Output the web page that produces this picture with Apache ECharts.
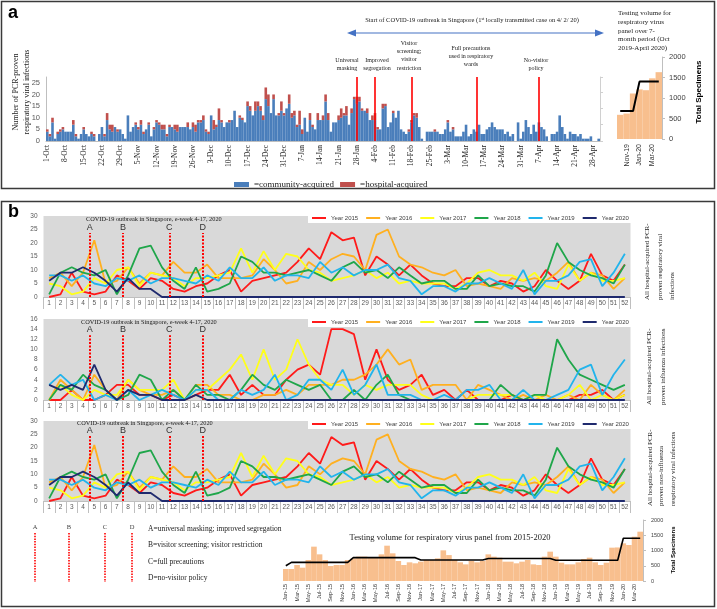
<!DOCTYPE html>
<html><head><meta charset="utf-8">
<script src="https://cdn.jsdelivr.net/npm/echarts@6/dist/echarts.min.js"></script>
<style>html,body{margin:0;padding:0;background:#fff}#c{width:717px;height:609px}</style>
</head><body><div id="c"></div><script>
const SERIF = 'Liberation Serif, DejaVu Serif, serif';
const SANS = 'Liberation Sans, Arial, sans-serif';

// ---------- Panel a: daily infections Oct 2019 - Apr 2020 ----------
const aMonthNames = ['Oct','Nov','Dec','Jan','Feb','Mar','Apr'];
const aMonthLengths = [31,30,31,31,29,31,30];
const dayLabels = [];
aMonthNames.forEach((m,i)=>{ for(let d=1; d<=aMonthLengths[i]; d++) dayLabels.push(d+'-'+m); });

const communityAcquired = [
 4,2,8,1,3,4,5, 4,4,4,7,2,1,3, 5,3,2,3,2,0,3, 6,2,9,5,4,6,4, 5,3,1,
 11,4,6,7,5,7,3,5,7,2, 5,8,7,5,5,2,6,6,5,4, 6,6,6,6,5,6,4,8,8,9,
 4,3,11,5,6,9,8,6,8,8, 9,13,6,10,9,8,15,13,11,13, 15,13,9,18,15,12,18,11,11,13, 11,
 14,16,10,11,6,7,3,10,4,9, 6,5,9,9,9,17,9,4,8,8, 9,10,11,11,7,12,18,16,17,13, 13,
 12,9,9,9,5,5,14,15,6,8, 12,10,13,5,4,3,4,8,11,10, 6,1,0,4,4,4,4,4,3,
 3,5,8,4,5,2,2,2,4,7, 2,3,5,4,7,3,3,5,6,8, 6,5,5,5,3,4,2,3,0,8, 1,
 4,9,6,3,7,4,8,6,5,2, 0,3,3,4,11,6,3,1,4,3, 3,2,3,1,1,1,2,0,0,1
];
const hospitalAcquired = [
 1,1,2,0,1,1,1, 0,0,0,2,1,0,0, 1,0,0,1,1,0,0, 0,1,3,2,3,0,1, 0,0,0,
 0,0,0,1,1,2,1,0,1,0, 1,1,1,2,2,1,1,0,2,3, 0,0,0,2,0,2,3,1,1,2,
 1,1,0,4,1,5,1,0,0,1, 0,0,0,1,1,0,2,2,0,4, 2,2,2,5,5,0,2,0,1,4, 1,
 0,4,2,2,1,6,2,0,0,3, 1,0,3,0,2,3,3,0,0,0, 2,4,1,4,0,2,1,3,2,1, 0,
 2,0,2,3,1,0,2,1,0,0, 1,0,0,0,0,0,1,1,1,2, 0,0,0,0,0,0,1,0,0,
 0,0,1,0,1,0,0,0,0,0, 0,0,0,0,0,0,0,0,0,0, 0,0,0,0,0,0,0,0,0,0, 0,
 0,0,0,0,0,0,0,0,0,0, 0,0,0,0,0,0,0,0,0,0, 0,0,0,0,0,0,0,0,0,0
];
const interventionDays = ['28-Jan','4-Feb','18-Feb','14-Mar','7-Apr'];
const aYTicks = [0,5,10,15,20,25];

const miniMonths = ['Oct-19','Nov-19','Dec-19','Jan-20','Feb-20','Mar-20','Apr-20'];
const miniSpecimens = [590,620,1110,1210,1190,1480,1630];
const miniAverage = [680,680,680,1400,1400,1400,1400];

// ---------- Panel b: weekly hospital-acquired infections ----------
const weeks = ['1','2','3','4','5','6','7','8','9','10','11','12','13','14','15','16','17','18','19','20','21','22','23','24','25','26',
 '27','28','29','30','31','32','33','34','35','36','37','38','39','40','41','42','43','44','45','46','47','48','49','50','51','52'];
const years = ['Year 2015','Year 2016','Year 2017','Year 2018','Year 2019','Year 2020'];

const all2015 = [0,1,9,2,1,2,8,6,3,7,6,3,2,4,5,8,10,2,6,7,8,9,13,18,14,24,21,22, 8,15,12,8,12,8,5,4,4,7,7,4,6,5,2,4,10,6,3,6,16,8,6,12];
const all2016 = [7,9,4,9,21,5,6,11,5,9,8,13,9,9,12,7,7,7,8,14,10,5,6,13,10,14,16,15, 10,23,25,15,12,11,9,8,10,4,5,4,3,7,6,7,6,9,13,6,9,8,3,7];
const all2017 = [5,4,1,2,7,5,10,11,4,9,8,7,4,7,7,8,9,18,9,17,10,16,15,10,9,6,7,8, 10,7,9,5,6,5,5,5,3,5,9,10,8,8,6,9,4,3,12,6,9,6,6,7];
const all2018 = [1,9,11,9,8,10,1,8,18,19,11,6,3,11,2,3,5,15,13,9,9,8,9,10,8,6,11,13, 9,10,7,11,8,5,6,6,3,3,8,4,5,4,4,2,8,20,13,10,8,7,5,12];
const all2019 = [8,8,6,8,5,4,7,6,8,5,7,7,6,5,8,6,11,7,7,11,6,8,8,7,13,9,11,8, 10,10,12,7,6,1,4,4,2,5,5,7,5,3,10,1,6,6,8,13,14,4,9,16];
const all2020 = [6,9,9,11,9,6,2,7,3,3,0,0,0,0,0,0,0,0,0,0,0,0,0,0,0,0, 0,0,0,0,0,0,0,0,0,0,0,0,0,0,0,0,0,0,0,0,0,0,0,0,0,0];

const flu2015 = [0,0,2,0,0,1,3,3,1,1,0,1,0,1,2,2,5,1,3,1,1,4,6,7,5,14,14,13, 4,10,4,2,3,5,1,2,0,2,0,0,0,1,0,0,0,0,0,1,1,2,0,1];
const flu2016 = [0,4,2,0,5,2,0,4,2,1,1,2,0,3,3,1,1,0,0,1,1,2,1,3,3,3,4,4, 5,7,10,7,8,2,3,3,3,0,3,2,1,0,1,0,1,0,1,0,3,1,0,2];
const flu2017 = [0,3,1,0,2,1,1,4,2,2,2,4,0,2,2,4,6,9,4,10,4,6,12,7,4,3,3,1, 3,2,3,3,3,1,0,0,0,0,1,1,1,1,0,1,0,0,1,3,0,1,0,1];
const flu2018 = [0,3,2,5,3,2,0,1,5,4,0,2,0,3,1,1,0,2,5,3,2,4,3,2,3,0,0,2, 0,3,5,1,0,0,0,0,0,0,0,0,3,1,0,1,1,12,8,5,4,3,2,3];
const flu2019 = [3,5,3,4,0,1,0,2,0,1,2,1,0,2,2,0,0,2,1,2,5,0,1,4,4,2,6,1, 3,7,1,1,1,0,0,1,0,2,2,3,0,0,2,0,0,1,2,6,7,1,5,8];
const flu2020 = [3,2,3,2,7,2,0,2,1,1,0,0,0,1,0,0,0,0,0,0,0,0,0,0,0,0, 0,0,0,0,0,0,0,0,0,0,0,0,0,0,0,0,0,0,0,0,0,0,0,0,0,0];

const nonFlu2015 = [0,1,9,2,1,2,8,6,3,7,6,3,2,4,5,8,10,2,6,7,8,9,13,18,14,24,21,22, 8,15,12,8,12,8,5,4,4,7,7,4,6,5,2,4,10,6,3,6,16,8,6,12];
const nonFlu2016 = [7,9,4,9,21,5,6,11,5,9,8,13,9,9,12,7,7,7,8,14,10,5,6,13,10,14,16,15, 10,23,25,15,12,11,9,8,10,4,5,4,3,7,6,7,6,9,13,6,9,8,3,7];
const nonFlu2017 = [5,4,1,2,7,5,10,11,4,9,8,7,4,7,7,8,9,18,9,17,10,16,15,10,9,6,7,8, 10,7,9,5,6,5,5,5,3,5,9,10,8,8,6,9,4,3,12,6,9,6,6,7];
const nonFlu2018 = [1,9,11,9,8,10,1,8,18,19,11,6,3,11,2,3,5,15,13,9,9,8,9,10,8,6,11,13, 9,10,7,11,8,5,6,6,3,3,8,4,5,4,4,2,8,20,13,10,8,7,5,12];
const nonFlu2019 = [8,8,6,8,5,4,7,6,8,5,7,7,6,5,8,6,11,7,7,11,6,8,8,7,13,9,11,8, 10,10,12,7,6,1,4,4,2,5,5,7,5,3,10,1,6,6,8,13,14,4,9,16];
const nonFlu2020 = [6,9,9,11,9,6,2,7,3,3,0,0,0,0,0,0,0,0,0,0,0,0,0,0,0,0, 0,0,0,0,0,0,0,0,0,0,0,0,0,0,0,0,0,0,0,0,0,0,0,0,0,0];

const interventionWeeks = [4.6, 7.55, 11.65, 14.6];
const interventionLetters = ['A','B','C','D'];
const interventionLegend = ['A=universal masking; improved segregation','B=visitor screening; visitor restriction','C=full precautions','D=no-visitor policy'];

// ---------- Testing volume Jan 2015 - Apr 2020 ----------
const tMonthNames = ['Jan','Feb','Mar','Apr','May','Jun','Jul','Aug','Sep','Oct','Nov','Dec'];
const tYears = ['15','16','17','18','19','20'];
const testMonths = [];
tYears.forEach(y=>tMonthNames.forEach(m=>testMonths.push(m+'-'+y)));
testMonths.length = 64;
const testSpecimens = [
 393,393,525,437,689,1126,874,689,492,525,525,689,
 743,800,800,780,780,874,1158,907,656,525,612,580,
 634,689,689,743,1005,850,689,612,546,656,612,656,
 874,798,765,634,634,580,634,689,546,525,798,962,
 798,600,546,546,612,721,765,612,525,600,1093,1100,
 1235,1180,1453,1617
];
const testAverage = [
 500,612,612,612,612,612,612,612,612,612,612,612,
 765,765,765,765,765,765,765,765,765,765,765,765,
 690,690,690,690,690,690,690,690,690,690,690,690,
 740,740,740,740,740,740,740,740,740,740,740,740,
 680,680,680,680,680,680,680,680,680,680,680,680,
 1400,1400,1400,1400
];

// ---------- styles ----------
const yearColors = ['#FF1A1A','#FFB020','#FFFF1A','#1FA64A','#22B4EC','#1F2A6E'];
const BLUE = '#4A7EBB', RED = '#C0504D', PEACH = '#F8BF8E', PLOTBG = '#D9D9D9';

const chart = echarts.init(document.getElementById('c'), null, {renderer:'canvas'});

const grids = [
 {left:46, top:77, width:554, height:64},          // 0 panel a bars
 {left:617, top:57, width:45, height:82},          // 1 panel a mini
 {left:43.5, top:216, width:587, height:81, show:true, backgroundColor:PLOTBG, borderWidth:0}, // 2
 {left:43.5, top:319, width:587, height:81, show:true, backgroundColor:PLOTBG, borderWidth:0}, // 3
 {left:43.5, top:421, width:587, height:80, show:true, backgroundColor:PLOTBG, borderWidth:0}, // 4
 {left:283, top:520, width:360, height:61}         // 5 testing volume
];

function weekAxis(g){
  return {type:'category', gridIndex:g, data:weeks, boundaryGap:true,
    axisLine:{show:true, lineStyle:{color:'#BFBFBF'}},
    axisTick:{show:true, length:12, lineStyle:{color:'#BFBFBF'}},
    axisLabel:{fontSize:6.5, color:'#595959', fontFamily:SANS, margin:3, interval:0}};
}
function hiddenWeekAxis(g){
  return {type:'value', gridIndex:g, min:0.5, max:52.5, show:false};
}
function bYAxis(g, max, step){
  return {type:'value', gridIndex:g, min:0, max:max, interval:step,
    axisLine:{show:false}, axisTick:{show:false}, splitLine:{show:false},
    axisLabel:{fontSize:6.5, color:'#595959', fontFamily:SANS, margin:6}};
}
const plainNum = (v)=> String(v);

const xAxes = [
 {type:'category', gridIndex:0, data:dayLabels, boundaryGap:true,
  axisLine:{show:true, lineStyle:{color:'#BFBFBF'}}, axisTick:{show:false},
  axisLabel:{rotate:90, fontSize:7.5, color:'#222', fontFamily:SERIF, margin:4,
    interval:(i)=> i%7===0}},
 {type:'category', gridIndex:1, data:miniMonths, boundaryGap:true,
  axisLine:{show:false}, axisTick:{show:false},
  axisLabel:{rotate:90, fontSize:7, color:'#333', fontFamily:SANS, margin:5, interval:(i)=> i%2===1}},
 weekAxis(2), weekAxis(3), weekAxis(4),
 {type:'category', gridIndex:5, data:testMonths, boundaryGap:true,
  axisLine:{show:false}, axisTick:{show:false},
  axisLabel:{rotate:90, fontSize:5.5, color:'#333', fontFamily:SANS, margin:3, interval:(i)=> i%2===0}},
 hiddenWeekAxis(2), hiddenWeekAxis(3), hiddenWeekAxis(4)
];

const yAxes = [
 {type:'value', gridIndex:0, min:0, max:27.5, interval:5,
  axisLine:{show:true, lineStyle:{color:'#BFBFBF'}}, axisTick:{show:false}, splitLine:{show:false},
  axisLabel:{fontSize:7.5, color:'#595959', fontFamily:SANS, margin:6,
   formatter:(v)=> aYTicks.indexOf(v)>=0 ? String(v) : ''}},
 {type:'value', gridIndex:0, position:'right', min:0, max:27.5, interval:7,
  axisLine:{show:true, lineStyle:{color:'#D0D0D0'}}, axisTick:{show:true, length:3, lineStyle:{color:'#D0D0D0'}},
  splitLine:{show:false}, axisLabel:{show:false}},
 {type:'value', gridIndex:1, position:'right', min:0, max:2000, interval:500,
  axisLine:{show:true, lineStyle:{color:'#BFBFBF'}}, axisTick:{show:true, length:3, lineStyle:{color:'#BFBFBF'}},
  splitLine:{show:false}, axisLabel:{fontSize:7.5, color:'#404040', fontFamily:SANS, margin:7, formatter:plainNum}},
 bYAxis(2,30,5), bYAxis(3,16,2), bYAxis(4,30,5),
 {type:'value', gridIndex:5, position:'right', min:0, max:2000, interval:500,
  axisLine:{show:true, lineStyle:{color:'#BFBFBF'}}, axisTick:{show:true, length:3, lineStyle:{color:'#BFBFBF'}},
  splitLine:{show:false}, axisLabel:{fontSize:5.5, color:'#404040', fontFamily:SANS, margin:8, formatter:plainNum}}
];

function yearSeries(xi, yi, list){
  return years.map((name,k)=>({
    name:name, type:'line', xAxisIndex:xi, yAxisIndex:yi, data:list[k],
    symbol:'none', showSymbol:false, silent:true,
    lineStyle:{width:1.8, color:yearColors[k]}, itemStyle:{color:yearColors[k]}, z:3
  }));
}
function markSeries(xi, yi, top){
  return {type:'line', xAxisIndex:xi, yAxisIndex:yi, data:[], silent:true, z:5,
    markLine:{symbol:'none', silent:true, animation:false,
      lineStyle:{color:'#FF0000', type:[2,1.5], width:2},
      label:{show:true, position:'end', formatter:'{b}', color:'#333', fontSize:9, fontFamily:SANS, distance:1},
      data: interventionWeeks.map((w,i)=>[{coord:[w,0], name:interventionLetters[i]},{coord:[w,top]}])
    }};
}

const series = [
 {name:'community-acquired', type:'bar', stack:'a', xAxisIndex:0, yAxisIndex:0, data:communityAcquired,
  itemStyle:{color:BLUE}, barCategoryGap:'0%', silent:true,
  markLine:{symbol:'none', silent:true, animation:false, label:{show:false},
   lineStyle:{color:'#FF0000', width:1.6, type:'solid'},
   data: interventionDays.map(d=>({xAxis:d}))}},
 {name:'hospital-acquired', type:'bar', stack:'a', xAxisIndex:0, yAxisIndex:0, data:hospitalAcquired,
  itemStyle:{color:RED}, barCategoryGap:'0%', silent:true},
 {type:'bar', xAxisIndex:1, yAxisIndex:2, data:miniSpecimens, itemStyle:{color:PEACH}, barCategoryGap:'0%', silent:true},
 {type:'line', xAxisIndex:1, yAxisIndex:2, data:miniAverage, symbol:'none', lineStyle:{color:'#000', width:2}, silent:true},
 ...yearSeries(2,3,[all2015,all2016,all2017,all2018,all2019,all2020]),
 ...yearSeries(3,4,[flu2015,flu2016,flu2017,flu2018,flu2019,flu2020]),
 ...yearSeries(4,5,[nonFlu2015,nonFlu2016,nonFlu2017,nonFlu2018,nonFlu2019,nonFlu2020]),
 markSeries(6,3,23.7), markSeries(7,4,12.8), markSeries(8,5,24.4),
 {type:'bar', xAxisIndex:5, yAxisIndex:6, data:testSpecimens, itemStyle:{color:PEACH}, barCategoryGap:'0%', silent:true},
 {type:'line', xAxisIndex:5, yAxisIndex:6, data:testAverage, symbol:'none', lineStyle:{color:'#000', width:1.6}, silent:true}
];

function bLegend(top){
  return {data:years, left:308, top:top, orient:'horizontal', icon:'rect', itemWidth:14, itemHeight:2,
    itemGap:8, padding:[2,4,2,4], backgroundColor:'#FFFFFF', selectedMode:false,
    textStyle:{fontSize:6, color:'#404040', fontFamily:SANS}};
}
const legends = [
 {data:['community-acquired','hospital-acquired'], left:229, top:175, icon:'rect', itemWidth:15, itemHeight:5,
  itemGap:6, selectedMode:false, formatter:'={name}', textStyle:{fontSize:9, color:'#222', fontFamily:SERIF}},
 bLegend(213), bLegend(317), bLegend(419)
];

function txt(x,y,text,opt){
  return Object.assign({type:'text', x:x, y:y, silent:true,
    style:Object.assign({text:text, fill:'#1a1a1a', font:'7px '+SERIF, align:'left', verticalAlign:'top'}, opt||{})});
}
function rot(x,y,text,opt){
  const t = txt(x,y,text,opt); t.rotation = Math.PI/2; return t;
}
const graphics = [
 {type:'rect', silent:true, shape:{x:1.5,y:1.5,width:713,height:187}, style:{fill:'none', stroke:'#3a3a3a', lineWidth:1.5}},
 {type:'rect', silent:true, shape:{x:1.5,y:201.5,width:713,height:405}, style:{fill:'none', stroke:'#3a3a3a', lineWidth:1.5}},
 txt(8,4,'a',{font:'bold 18px '+SANS, fill:'#000'}),
 txt(8,203,'b',{font:'bold 18px '+SANS, fill:'#000'}),
 rot(11,92,'Number of PCR-proven\nrespiratory viral infections',{font:'8px '+SERIF, align:'center', verticalAlign:'top', lineHeight:10.5}),
 // outbreak text + arrow
 {type:'text', x:472, y:20, silent:true, style:{text:'Start of COVID-19 outbreak in Singapore (1{sup|st} locally transmitted case on 4/ 2/ 20)',
   font:'6.5px '+SERIF, fill:'#1a1a1a', align:'center', verticalAlign:'middle', rich:{sup:{fontSize:4, verticalAlign:'top', fontFamily:SERIF}}}},
 {type:'line', silent:true, shape:{x1:354,y1:33,x2:597,y2:33}, style:{stroke:'#4472C4', lineWidth:1.2}},
 {type:'polygon', silent:true, shape:{points:[[347,33],[356,29.5],[356,36.5]]}, style:{fill:'#4472C4'}},
 {type:'polygon', silent:true, shape:{points:[[604,33],[595,29.5],[595,36.5]]}, style:{fill:'#4472C4'}},
 txt(347,56,'Universal\nmasking',{font:'6px '+SERIF, align:'center', lineHeight:8}),
 txt(377,56,'Improved\nsegregation',{font:'6px '+SERIF, align:'center', lineHeight:8}),
 txt(409,39,'Visitor\nscreening;\nvisitor\nrestriction',{font:'6px '+SERIF, align:'center', lineHeight:8.3}),
 txt(471,44,'Full precautions\nused in respiratory\nwards',{font:'6px '+SERIF, align:'center', lineHeight:8}),
 txt(536,56,'No-visitor\npolicy',{font:'6px '+SERIF, align:'center', lineHeight:8}),
 // mini chart text
 txt(618,9,'Testing volume for\nrespiratory virus\npanel over 7-\nmonth period (Oct\n2019-April 2020)',{font:'7px '+SERIF, lineHeight:8.7}),
 rot(695,92,'Total Specimens',{font:'bold 8px '+SANS, align:'center', fill:'#000'}),
 // panel b chart titles
 txt(86,219,'COVID-19 outbreak in Singapore, e-week 4-17, 2020',{font:'6.3px '+SERIF, verticalAlign:'middle'}),
 txt(81,322.5,'COVID-19 outbreak in Singapore, e-week 4-17, 2020',{font:'6.3px '+SERIF, verticalAlign:'middle'}),
 txt(77,423.5,'COVID-19 outbreak in Singapore, e-week 4-17, 2020',{font:'6.3px '+SERIF, verticalAlign:'middle'}),
 // right side rotated descriptions
 rot(641,300,'All hospital-acquired PCR-\nproven respiratory viral\ninfections',{font:'7px '+SERIF, lineHeight:12.5}),
 rot(642,405,'All hospital-acquired PCR-\nproven influenza infections',{font:'7px '+SERIF, lineHeight:14}),
 rot(644,506,'All hospital-acquired PCR-\nproven non-influenza\nrespiratory viral infections',{font:'7px '+SERIF, lineHeight:11.5}),
 // bottom testing chart labels
 txt(450,538,'Testing volume for respiratory virus panel from 2015-2020',{font:'8.5px '+SERIF, align:'center', verticalAlign:'middle'}),
 rot(670,550,'Total Specimens',{font:'bold 6px '+SANS, align:'center', fill:'#000'})
];
// bottom-left A-D key
const keyX = [35, 69, 105, 132];
keyX.forEach((x,i)=>{
  graphics.push(txt(x,527,interventionLetters[i],{font:'6.5px '+SERIF, align:'center', verticalAlign:'middle', fill:'#444'}));
  graphics.push({type:'line', silent:true, shape:{x1:x,y1:533,x2:x,y2:582}, style:{stroke:'#FF0000', lineWidth:1.6, lineDash:[1.5,1.2]}});
});
interventionLegend.forEach((t,i)=>{
  graphics.push(txt(148,529+i*16.3,t,{font:'7.5px '+SERIF, verticalAlign:'middle'}));
});

chart.setOption({
  animation:false,
  backgroundColor:'#fff',
  grid:grids, xAxis:xAxes, yAxis:yAxes, legend:legends, series:series, graphic:graphics
});
</script></body></html>
